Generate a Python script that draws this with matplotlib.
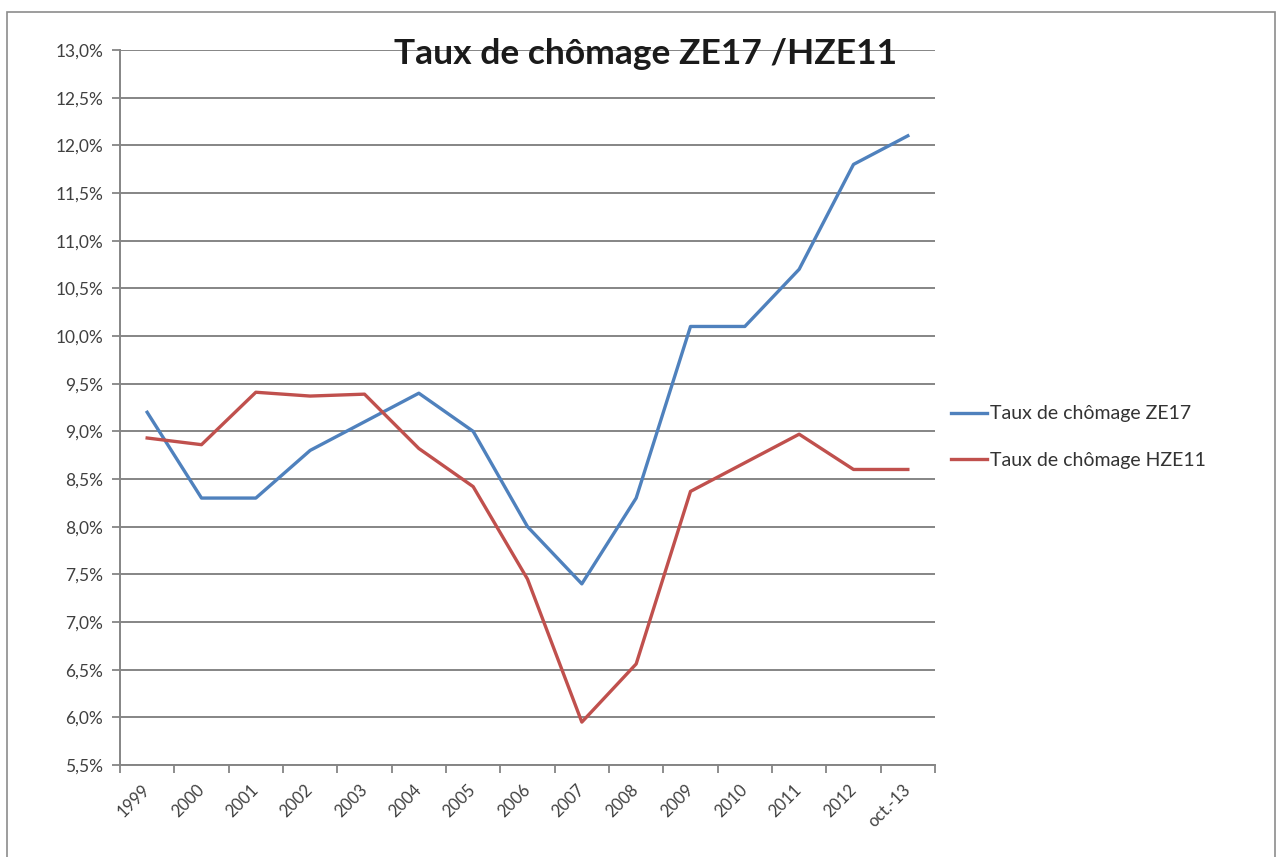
import matplotlib.pyplot as plt
import matplotlib.patches as patches
from matplotlib.ticker import FuncFormatter, MultipleLocator

# Données
categories = ["1999", "2000", "2001", "2002", "2003", "2004", "2005", "2006",
              "2007", "2008", "2009", "2010", "2011", "2012", "oct.-13"]
ze17 = [9.2, 8.3, 8.3, 8.8, 9.1, 9.4, 9.0, 8.0, 7.4, 8.3, 10.1, 10.1, 10.7, 11.8, 12.1]
hze11 = [8.93, 8.86, 9.41, 9.37, 9.39, 8.82, 8.42, 7.45, 5.95, 6.56, 8.37, 8.67, 8.97, 8.6, 8.6]
series_labels = ["Taux de chômage ZE17", "Taux de chômage HZE11"]
title = "Taux de chômage ZE17 /HZE11"

plt.rcParams['font.family'] = ['Lato', 'DejaVu Sans']

fig = plt.figure(figsize=(12.82, 8.57), dpi=100)
ax = fig.add_axes([120 / 1282, 1 - 765 / 857, 815 / 1282, 715 / 857])

# Cadre du graphique
frame = patches.Rectangle((7 / 1282, -0.01), 1268 / 1282, 1 - 12 / 857 + 0.01,
                          transform=fig.transFigure, fill=False,
                          edgecolor="#8c8c8c", linewidth=1.2)
fig.patches.append(frame)

x = range(len(categories))
ax.plot(x, ze17, color="#4F81BD", linewidth=2.4, label=series_labels[0], zorder=3)
ax.plot(x, hze11, color="#C0504D", linewidth=2.4, label=series_labels[1], zorder=3)

ax.set_xlim(-0.5, len(categories) - 0.5)
ax.set_ylim(5.5, 13.0)

ax.yaxis.set_major_locator(MultipleLocator(0.5))
ax.yaxis.set_major_formatter(FuncFormatter(lambda v, p: f"{v:.1f}%".replace(".", ",")))
ax.grid(axis="y", color="#858585", linewidth=1.4, zorder=1)
ax.set_axisbelow(True)

ax.set_xticks(list(x))
ax.set_xticklabels(categories, rotation=45, ha="right", va="center",
                   rotation_mode="anchor", fontsize=12, color="#404040")
ax.set_xticks([i - 0.5 for i in range(len(categories) + 1)], minor=True)
ax.tick_params(axis="x", which="major", length=0, pad=16)
ax.tick_params(axis="x", which="minor", length=6, color="#858585", width=1.3)
ax.tick_params(axis="y", length=6, color="#858585", width=1.3,
               labelsize=12.5, labelcolor="#404040", pad=6)

for side in ["top", "right"]:
    ax.spines[side].set_visible(False)
for side in ["left", "bottom"]:
    ax.spines[side].set_color("#858585")
    ax.spines[side].set_linewidth(1.4)

fig.text(646 / 1282, 1 - 54 / 857, title, ha="center", va="center",
         fontsize=25.5, fontweight="bold", color="#1a1a1a")

fig.legend(loc="center left", bbox_to_anchor=(933 / 1282, 1 - 437 / 857),
           frameon=False, fontsize=14, handlelength=1.9, handletextpad=0.15,
           labelspacing=1.5, labelcolor="#333333")

plt.savefig("out.png", dpi=100)
